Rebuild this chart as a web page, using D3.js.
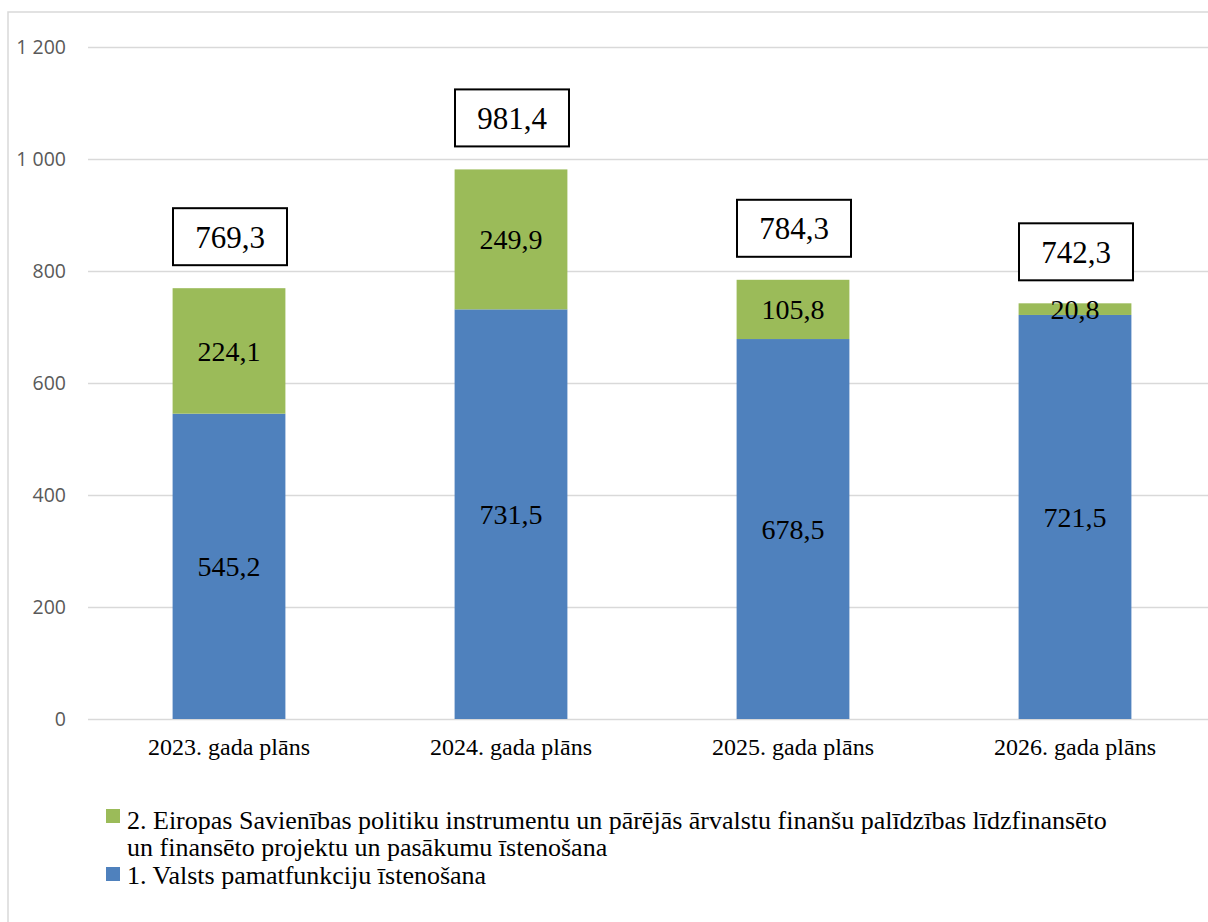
<!DOCTYPE html>
<html><head><meta charset="utf-8">
<script src="https://cdn.jsdelivr.net/npm/d3@7"></script>
<style>body{margin:0;background:#fff}svg{display:block}</style>
</head><body>
<svg id="c" width="1208" height="922"></svg>
<script>
const categories = ["2023. gada plāns","2024. gada plāns","2025. gada plāns","2026. gada plāns"];
const series1 = [545.2, 731.5, 678.5, 721.5];
const series2 = [224.1, 249.9, 105.8, 20.8];
const totals = [769.3, 981.4, 784.3, 742.3];
const yTicks = [0,200,400,600,800,1000,1200];
const legendLabels = ["2. Eiropas Savienības politiku instrumentu un pārējās ārvalstu finanšu palīdzības līdzfinansēto", "un finansēto projektu un pasākumu īstenošana", "1. Valsts pamatfunkciju īstenošana"];

const svg = d3.select("#c");
const fmt = v => v.toFixed(1).replace(".", ",");
const fmtTick = v => d3.format(",")(v).replace(/,/g, " ");
const blue = "#4F81BD", green = "#9BBB59";

svg.append("rect").attr("x",8).attr("y",12).attr("width",1260).attr("height",960)
  .attr("fill","none").attr("stroke","#d9d9d9").attr("stroke-width",1.5);

const x = d3.scaleBand().domain(categories).range([88,1216]).paddingInner(0.6).paddingOuter(0.3);
const y = d3.scaleLinear().domain([0,1200]).range([719,47]);

const gy = svg.append("g").attr("transform","translate(88,0)")
  .call(d3.axisLeft(y).tickValues(yTicks).tickFormat(fmtTick).tickSize(-1130).tickPadding(22));
gy.select(".domain").remove();
gy.selectAll(".tick line").attr("stroke","#d9d9d9").attr("stroke-width",1.5);
gy.selectAll(".tick text").attr("fill","#595959").style("font-family","'Open Sans', sans-serif").style("font-size","19.5px");

const serif = "'Liberation Serif', 'Times New Roman', serif";
const gx = svg.append("g").attr("transform","translate(0,719)")
  .call(d3.axisBottom(x).tickSize(0).tickPadding(19));
gx.select(".domain").remove();
gx.selectAll(".tick text").attr("fill","#000").style("font-family",serif).style("font-size","24px");

const data = categories.map((c,i)=>({c, a:series1[i], b:series2[i], t:totals[i]}));
const g = svg.append("g");
g.selectAll(".b1").data(data).join("rect").attr("x",d=>x(d.c)).attr("width",x.bandwidth())
  .attr("y",d=>y(d.a)).attr("height",d=>y(0)-y(d.a)).attr("fill",blue);
g.selectAll(".b2").data(data).join("rect").attr("x",d=>x(d.c)).attr("width",x.bandwidth())
  .attr("y",d=>y(d.a+d.b)).attr("height",d=>y(d.a)-y(d.a+d.b)).attr("fill",green);

g.selectAll(".l1").data(data).join("text").attr("x",d=>x(d.c)+x.bandwidth()/2)
  .attr("y",d=>y(d.a/2)).attr("dy","0.35em").attr("text-anchor","middle")
  .style("font-family",serif).style("font-size","28px").text(d=>fmt(d.a));
g.selectAll(".l2").data(data).join("text").attr("x",d=>x(d.c)+x.bandwidth()/2)
  .attr("y",d=>y(d.a+d.b/2)).attr("dy","0.35em").attr("text-anchor","middle")
  .style("font-family",serif).style("font-size","28px").text(d=>fmt(d.b));

const bw = 114, bh = 57;
g.selectAll(".tb").data(data).join("rect").attr("x",d=>x(d.c)+x.bandwidth()/2-bw/2+1)
  .attr("y",d=>y(d.a+d.b)-23-bh).attr("width",bw).attr("height",bh)
  .attr("fill","#fff").attr("stroke","#000").attr("stroke-width",2);
g.selectAll(".tt").data(data).join("text").attr("x",d=>x(d.c)+x.bandwidth()/2+1)
  .attr("y",d=>y(d.a+d.b)-23-bh/2).attr("dy","0.35em").attr("text-anchor","middle")
  .style("font-family",serif).style("font-size","31px").text(d=>fmt(d.t));

const lg = svg.append("g").style("font-family",serif).style("font-size","26px");
lg.append("rect").attr("x",106).attr("y",809).attr("width",14).attr("height",14).attr("fill",green);
lg.append("text").attr("x",127).attr("y",829).text(legendLabels[0]);
lg.append("text").attr("x",127).attr("y",856).text(legendLabels[1]);
lg.append("rect").attr("x",106).attr("y",867).attr("width",14).attr("height",14).attr("fill",blue);
lg.append("text").attr("x",127).attr("y",884).text(legendLabels[2]);
</script>
</body></html>
